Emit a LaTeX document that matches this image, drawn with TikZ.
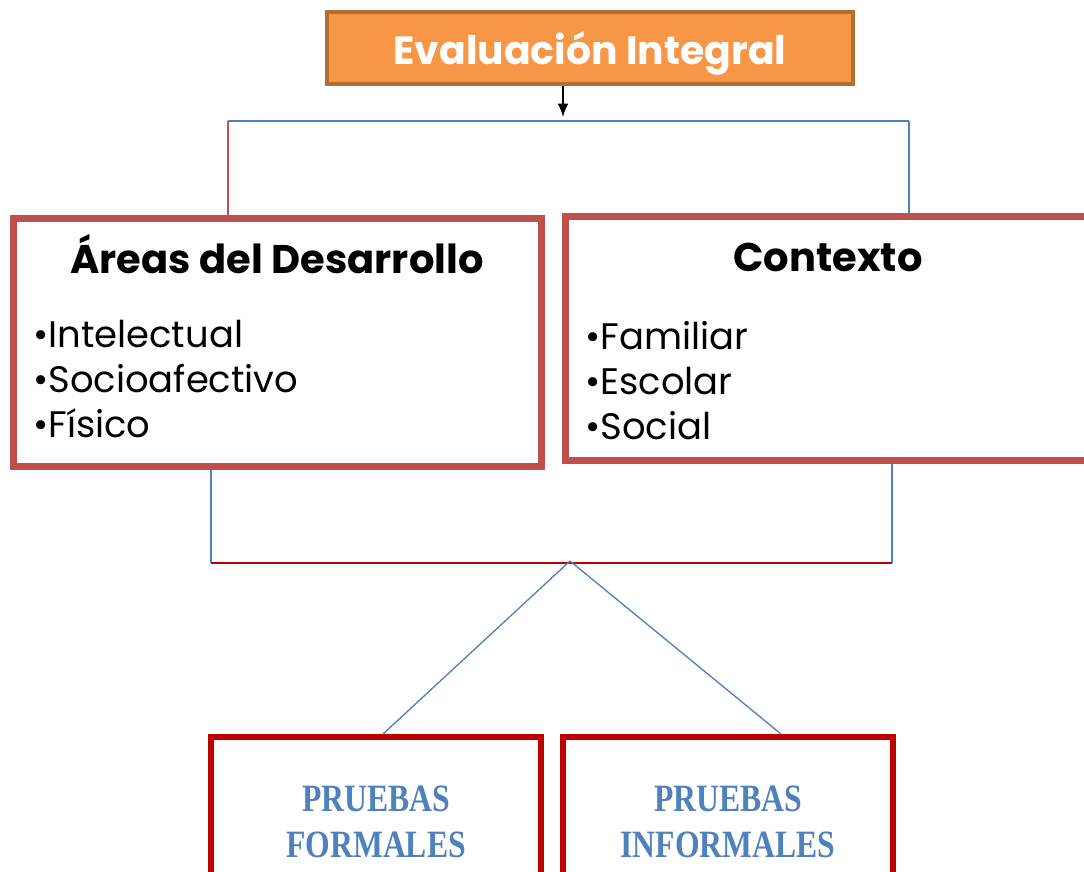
\documentclass[tikz,border=0pt]{standalone}
\usepackage{fontspec}
\setmainfont{Poppins}
\newfontfamily\serifb[FakeStretch=0.82]{Liberation Serif}
\usetikzlibrary{shadows,arrows.meta}
\definecolor{orangefill}{HTML}{F79646}
\definecolor{orangeborder}{HTML}{B66D31}
\definecolor{boxred}{HTML}{C0504D}
\definecolor{darkred}{HTML}{C00000}
\definecolor{lineblue}{HTML}{4F81BD}
\definecolor{linered}{HTML}{C00000}
\tikzset{
  evalbox/.style={draw=orangeborder, fill=orangefill, line width=3pt, minimum width=394pt, minimum height=54pt, inner sep=0pt},
  areabox/.style={draw=boxred, fill=white, line width=5.25pt, inner sep=0pt,
     drop shadow={opacity=0.35, shadow xshift=2pt, shadow yshift=-2.5pt}},
  testbox/.style={draw=darkred, fill=white, line width=4.5pt, inner sep=0pt, minimum width=247.5pt, minimum height=121.5pt},
  titletext/.style={font=\bfseries\fontsize{30}{34}\selectfont, text=black, inner sep=0pt, anchor=base},
  itemtext/.style={font=\fontsize{27.7}{33.4}\selectfont, text=black, inner sep=0pt, align=left, anchor=base west},
  testtext/.style={font=\serifb\bfseries\fontsize{29}{35}\selectfont, text=lineblue, align=center, inner sep=0pt},
  blueline/.style={draw=lineblue, line width=1pt},
  redline/.style={draw=linered, line width=1pt},
  redthin/.style={draw=boxred, line width=1pt},
}
\begin{document}
\begin{tikzpicture}[x=0.75pt,y=-0.75pt]
\useasboundingbox (0,0) rectangle (1084,871);
\clip (0,0) rectangle (1084,871);
\fill[white] (0,0) rectangle (1084,871);

% top box
\node[evalbox] (eval) at (590,48) {};
\node[font=\bfseries\fontsize{29.5}{32}\selectfont, text=white, inner sep=0pt, anchor=base] (evaltxt) at (590,64) {Evaluación Integral};

% coordinates for the connectors
\coordinate (arr) at (563,117);
\coordinate (tl) at (228,121);
\coordinate (tr) at (909,121);
\coordinate (bl) at (211,563);
\coordinate (br) at (892,563);
\coordinate (apex) at (570,561);
\coordinate (fl) at (383,737);
\coordinate (fr) at (781,737);

% middle boxes
\node[areabox, minimum width=396pt, minimum height=186pt] (areas) at (277,342) {};
\node[areabox, minimum width=394pt, minimum height=183pt] (contexto) at (828,338) {};

\node[titletext] (areastit) at (277,273) {Áreas del Desarrollo};
\node[itemtext] (areasitems) at (33,437) {•Intelectual\\•Socioafectivo\\•Físico};
\node[titletext] (contit) at (828,271) {Contexto};
\node[itemtext] (conitems) at (585,439) {•Familiar\\•Escolar\\•Social};

% bottom boxes
\node[testbox] (formal) at (376,818) {};
\node[testbox] (informal) at (728,818) {};
\node[testtext] (formaltxt) at (376,822) {PRUEBAS\\FORMALES};
\node[testtext] (informaltxt) at (728,822) {PRUEBAS\\INFORMALES};

% connectors
\draw[-{Latex[length=10pt,width=8pt]}, line width=1.2pt, black] (eval.south -| arr) -- (arr);
\draw[blueline] (tl) -- (tr);
\draw[redthin] (areas.north -| tl) -- (tl);
\draw[blueline] (contexto.north -| tr) -- (tr);
\draw[blueline] (areas.south -| bl) -- (bl);
\draw[blueline] (contexto.south -| br) -- (br);
\draw[redline, line width=1.5pt] (bl) -- (br);
\draw[blueline] (apex) -- (formal.north -| fl);
\draw[blueline] (apex) -- (informal.north -| fr);
\end{tikzpicture}
\end{document}
